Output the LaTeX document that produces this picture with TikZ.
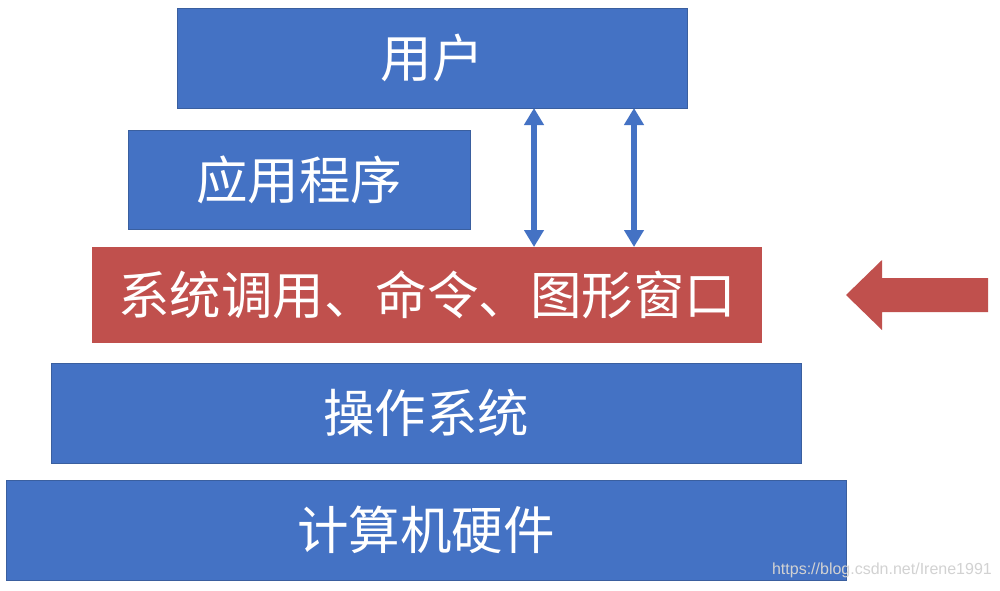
\documentclass[tikz,border=0pt]{standalone}
\usepackage{fontspec}
\newfontfamily\cjk{Noto Sans CJK SC}
\newfontfamily\wm{Liberation Sans}
\usetikzlibrary{arrows.meta}
\definecolor{boxblue}{HTML}{4472C4}
\definecolor{boxedge}{HTML}{3A5F9F}
\definecolor{boxred}{HTML}{C0504D}
\definecolor{wmgray}{HTML}{D2D2D2}
\tikzset{
  layer/.style={rectangle, anchor=north west, inner sep=0pt, outer sep=0pt,
    text=white, font=\cjk\fontsize{51.5}{60}\selectfont},
  bluebox/.style={layer, fill=boxblue, draw=boxedge, line width=0.8pt},
  redbox/.style={layer, fill=boxred},
  dblarrow/.style={draw=boxblue, line width=5.5pt,
    {Triangle[width=19pt,length=17pt]}-{Triangle[width=19pt,length=17pt]}}
}
\begin{document}
\begin{tikzpicture}[x=1pt,y=-1pt]
\useasboundingbox (0,0) rectangle (1000,590);
\fill[white] (0,0) rectangle (1000,590);

\node[bluebox, minimum width=510pt, minimum height=100pt] (user) at (177,8) {用户};
\node[bluebox, minimum width=342pt, minimum height=99pt] (app) at (128,130) {应用程序};
\node[redbox, minimum width=670pt, minimum height=96pt] (sys) at (92,247) {系统调用、命令、图形窗口};
\node[bluebox, minimum width=750pt, minimum height=100pt] (os) at (51,363) {操作系统};
\node[bluebox, minimum width=840pt, minimum height=100pt] (hw) at (6,480) {计算机硬件};

\draw[dblarrow] (534,0 |- user.south) -- (534,0 |- sys.north);
\draw[dblarrow] (634,0 |- user.south) -- (634,0 |- sys.north);

\fill[boxred] (846,295) -- (882,260) -- (882,278) -- (988,278) -- (988,312) -- (882,312) -- (882,330) -- cycle;

\node[anchor=east, inner sep=0pt, text=wmgray, font=\wm\fontsize{16}{19}\selectfont] (mark) at (992,570) {https://blog.csdn.net/Irene1991};
\end{tikzpicture}
\end{document}
